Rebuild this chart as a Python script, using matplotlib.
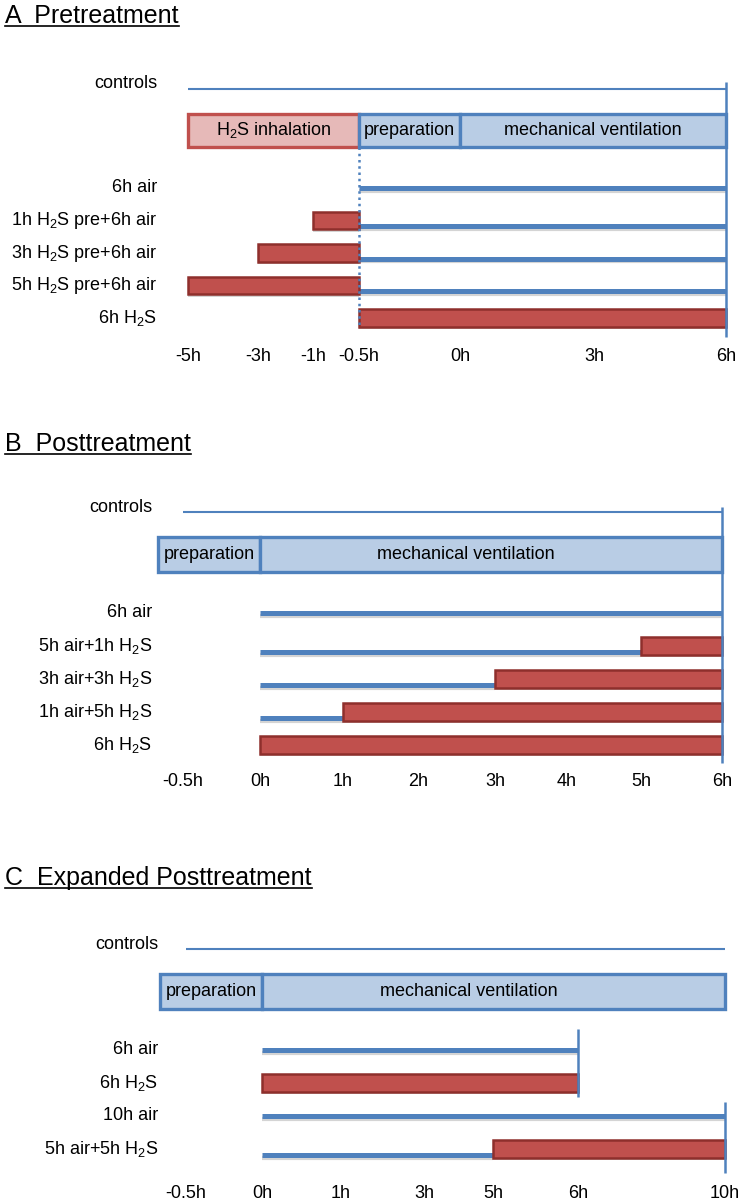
import numpy as np
import matplotlib
matplotlib.use("Agg")
import matplotlib.pyplot as plt
from matplotlib.transforms import blended_transform_factory
from matplotlib.ticker import NullLocator
from matplotlib.lines import Line2D

plt.rcParams["font.family"] = ["Liberation Sans", "DejaVu Sans"]
plt.rcParams["mathtext.fontset"] = "custom"
plt.rcParams["mathtext.rm"] = "Liberation Sans"
plt.rcParams["mathtext.it"] = "Liberation Sans:italic"

H2S = r"H$_2$S"

# ---------------- data ----------------
# A  Pretreatment
A_title = "A  Pretreatment"
A_rows = ["6h air", f"1h {H2S} pre+6h air", f"3h {H2S} pre+6h air",
          f"5h {H2S} pre+6h air", f"6h {H2S}"]
A_air = [(-0.5, 6), (-0.5, 6), (-0.5, 6), (-0.5, 6), None]
A_h2s = [None, (-1, -0.5), (-3, -0.5), (-5, -0.5), (-0.5, 6)]
A_phases = [f"{H2S} inhalation", "preparation", "mechanical ventilation"]
A_phase_span = [(-5, -0.5), (-0.5, 0), (0, 6)]
A_controls = (-5, 6)
A_ticks = [-5, -3, -1, -0.5, 0, 3, 6]
A_tick_labels = ["-5h", "-3h", "-1h", "-0.5h", "0h", "3h", "6h"]

# B  Posttreatment
B_title = "B  Posttreatment"
B_rows = ["6h air", f"5h air+1h {H2S}", f"3h air+3h {H2S}",
          f"1h air+5h {H2S}", f"6h {H2S}"]
B_air = [(0, 6), (0, 5), (0, 3), (0, 1), None]
B_h2s = [None, (5, 6), (3, 6), (1, 6), (0, 6)]
B_phases = ["preparation", "mechanical ventilation"]
B_phase_span = [(-0.5, 0), (0, 6)]
B_controls = (-0.5, 6)
B_ticks = [-0.5, 0, 1, 2, 3, 4, 5, 6]
B_tick_labels = ["-0.5h", "0h", "1h", "2h", "3h", "4h", "5h", "6h"]

# C  Expanded Posttreatment
C_title = "C  Expanded Posttreatment"
C_rows = ["6h air", f"6h {H2S}", "10h air", f"5h air+5h {H2S}"]
C_air = [(0, 6), None, (0, 10), (0, 5)]
C_h2s = [None, (0, 6), None, (5, 10)]
C_phases = ["preparation", "mechanical ventilation"]
C_phase_span = [(-0.5, 0), (0, 10)]
C_controls = (-0.5, 10)
C_ticks = [-0.5, 0, 1, 3, 5, 6, 10]
C_tick_labels = ["-0.5h", "0h", "1h", "3h", "5h", "6h", "10h"]

# ---------------- layout (pixels) ----------------
W, H = 749, 1202
layout = {
    "A": dict(anchor_px=[188, 258, 313, 359, 460, 594, 726], row0=188, sp=32.5,
              tick_y=357, title_y=23, label_x=157, box_pad=0.0, mv_shift=0,
              ends=[(6, -3.26, 4.58)], dotted=(-0.5, -1.25, 4.3)),
    "B": dict(anchor_px=[183, 260, 343, 418, 495, 567, 641, 722], row0=613, sp=33,
              tick_y=782, title_y=451, label_x=152, box_pad=0.16, mv_shift=-25,
              ends=[(6, -3.2, 4.55)], dotted=None),
    "C": dict(anchor_px=[186, 262, 341, 424, 493, 578, 725], row0=1050, sp=33,
              tick_y=1194, title_y=885, label_x=158, box_pad=0.17, mv_shift=-25,
              ends=[(6, -0.64, 1.42), (10, 1.58, 3.73)], dotted=None),
}

BLUE = "#4f81bd"
RED = "#c0504d"
RED_EDGE = "#8e2f2c"
BOX_BLUE = "#b9cde5"
BOX_PINK = "#e6b9b8"
SHADOW = "#d4d4d4"


def piecewise(xs, ys):
    xs = np.asarray(xs, float)
    ys = np.asarray(ys, float)
    s0 = (ys[1] - ys[0]) / (xs[1] - xs[0])
    s1 = (ys[-1] - ys[-2]) / (xs[-1] - xs[-2])

    def f(v):
        v = np.asarray(v, float)
        out = np.interp(v, xs, ys)
        out = np.where(v < xs[0], ys[0] + (v - xs[0]) * s0, out)
        out = np.where(v > xs[-1], ys[-1] + (v - xs[-1]) * s1, out)
        return out
    return f


fig = plt.figure(figsize=(W / 100, H / 100), dpi=100)
titles = []


def draw_panel(key, title, rows, air, h2s, phases, phase_span, controls, ticks, tick_labels):
    L = layout[key]
    row0, sp = L["row0"], L["sp"]
    n = len(rows)
    top_u, bot_u = -3.6, n - 1 + 0.6
    top_px, bot_px = row0 + top_u * sp, row0 + bot_u * sp
    ax = fig.add_axes([0, 1 - bot_px / H, 1, (bot_px - top_px) / H])
    fwd = piecewise(ticks, L["anchor_px"])
    inv = piecewise(L["anchor_px"], ticks)
    ax.set_xscale("function", functions=(fwd, inv))
    ax.set_xlim(float(inv(0)), float(inv(W)))
    ax.set_ylim(bot_u, top_u)
    for s in ax.spines.values():
        s.set_visible(False)
    ax.set_yticks([])
    ax.xaxis.set_minor_locator(NullLocator())
    ax.set_xticks(ticks)
    ax.set_xticklabels(tick_labels)
    pad_pt = (L["tick_y"] - 9 - bot_px) * 0.72
    ax.tick_params(axis="x", length=0, pad=pad_pt, labelsize=13)

    lab_tr = blended_transform_factory(fig.transFigure, ax.transData)
    lx = L["label_x"] / W

    # controls
    ctrl_y = -3.05
    ax.hlines(ctrl_y, controls[0], controls[1], color=BLUE, lw=1.5)
    ax.text(lx, -3.2, "controls", transform=lab_tr, ha="right", va="center", fontsize=13)

    # phase boxes
    box_y = -1.77
    for name, (s, e) in zip(phases, phase_span):
        left = s - L["box_pad"] if name == "preparation" else s
        is_h2s = "inhalation" in name
        ax.barh(box_y, e - left, left=left, height=1.04,
                color=BOX_PINK if is_h2s else BOX_BLUE,
                edgecolor=RED if is_h2s else BLUE, linewidth=2.4, zorder=2)
        mid_px = (fwd(left) + fwd(e)) / 2
        if name == "mechanical ventilation":
            mid_px = mid_px + L["mv_shift"]
        ax.text(float(inv(mid_px)), box_y, name, ha="center", va="center",
                fontsize=13, zorder=3)

    # treatment rows
    for i, lab in enumerate(rows):
        ax.text(lx, i, lab, transform=lab_tr, ha="right", va="center", fontsize=13)
        y_line = i + 0.17 if h2s[i] is not None else i
        if air[i] is not None:
            ax.hlines(y_line + 0.09, air[i][0], air[i][1], color=SHADOW, lw=3.0, zorder=1)
            ax.hlines(y_line, air[i][0], air[i][1], color=BLUE, lw=3.6, zorder=2)
        if h2s[i] is not None:
            s, e = h2s[i]
            ax.barh(i + 0.08, e - s, left=s, height=0.53, color=SHADOW,
                    linewidth=0, zorder=1)
            ax.barh(i, e - s, left=s, height=0.53, color=RED,
                    edgecolor=RED_EDGE, linewidth=1.8, zorder=3)

    # end markers
    for t, y0, y1 in L["ends"]:
        ax.vlines(t, y0, y1, color=BLUE, lw=1.8, zorder=4, clip_on=False)
    if L["dotted"] is not None:
        t, y0, y1 = L["dotted"]
        ax.vlines(t, y0, y1, color=BLUE, lw=1.8, linestyles=(0, (1, 1.5)), zorder=4)

    tt = fig.text(5 / W, 1 - L["title_y"] / H, title, fontsize=18, ha="left", va="baseline")
    titles.append((tt, L["title_y"]))
    return ax


draw_panel("A", A_title, A_rows, A_air, A_h2s, A_phases, A_phase_span, A_controls,
           A_ticks, A_tick_labels)
draw_panel("B", B_title, B_rows, B_air, B_h2s, B_phases, B_phase_span, B_controls,
           B_ticks, B_tick_labels)
draw_panel("C", C_title, C_rows, C_air, C_h2s, C_phases, C_phase_span, C_controls,
           C_ticks, C_tick_labels)

# underline the panel titles
fig.canvas.draw()
renderer = fig.canvas.get_renderer()
for tt, by in titles:
    bb = tt.get_window_extent(renderer).transformed(fig.transFigure.inverted())
    yy = 1 - (by + 3) / H
    fig.add_artist(Line2D([bb.x0, bb.x1], [yy, yy], color="black", lw=1.2,
                          transform=fig.transFigure))

fig.savefig("out.png", dpi=100)
